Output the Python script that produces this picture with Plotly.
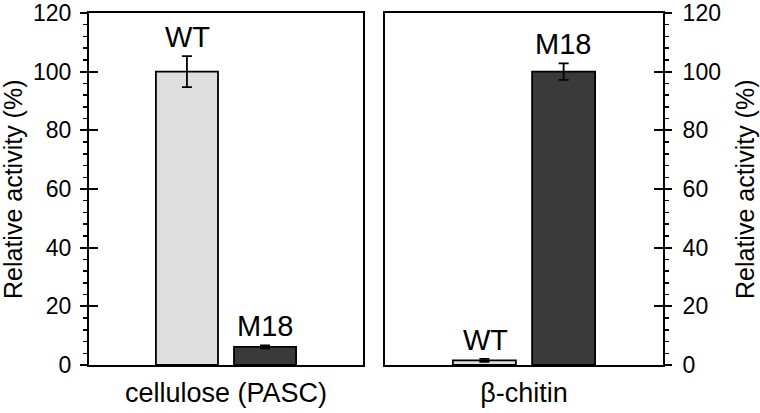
import plotly.graph_objects as go

substrates = ["cellulose (PASC)", "β-chitin"]
variants = ["WT", "M18"]
wt_values = [100.0, 1.6]
wt_errors = [5.3, 0.5]
m18_values = [6.2, 100.0]
m18_errors = [0.5, 2.8]
y_ticks = [0, 20, 40, 60, 80, 100, 120]
y_title = "Relative activity (%)"

FONT = "Liberation Sans, Arial, sans-serif"
WT_COLOR = "#dedede"
M18_COLOR = "#3a3a3a"

W, H = 760, 413
ML, MR, MT, MB = 89, 97, 13, 48
PW = W - ML - MR

def px_x(px):
    return (px - ML) / PW

fig = go.Figure()

axes = [("x", "y"), ("x2", "y2")]
for i, (xa, ya) in enumerate(axes):
    fig.add_trace(go.Bar(
        x=[substrates[i]], y=[wt_values[i]], name=variants[0],
        marker=dict(color=WT_COLOR, line=dict(color="black", width=1.8)),
        error_y=dict(type="data", array=[wt_errors[i]], color="black", thickness=1.8, width=5),
        xaxis=xa, yaxis=ya, showlegend=False, offsetgroup="wt"))
    fig.add_trace(go.Bar(
        x=[substrates[i]], y=[m18_values[i]], name=variants[1],
        marker=dict(color=M18_COLOR, line=dict(color="black", width=1.8)),
        error_y=dict(type="data", array=[m18_errors[i]], color="black", thickness=1.8, width=5),
        xaxis=xa, yaxis=ya, showlegend=False, offsetgroup="m18"))
    for j, (vals, errs) in enumerate([(wt_values, wt_errors), (m18_values, m18_errors)]):
        fig.add_annotation(
            x=substrates[i], y=vals[i] + errs[i], xref=xa, yref=ya,
            text=variants[j], showarrow=False, yanchor="bottom",
            xshift=(-39 if j == 0 else 39), yshift=1,
            font=dict(family=FONT, size=29, color="black"))

# y-axis titles
fig.add_annotation(x=px_x(13), y=0.5, xref="paper", yref="paper", text=y_title,
                   textangle=-90, showarrow=False, xanchor="center", yanchor="middle",
                   font=dict(family=FONT, size=25, color="black"))
fig.add_annotation(x=px_x(745), y=0.5, xref="paper", yref="paper", text=y_title,
                   textangle=-90, showarrow=False, xanchor="center", yanchor="middle",
                   font=dict(family=FONT, size=25, color="black"))

common_y = dict(range=[0, 120], tickvals=y_ticks, ticks="outside", ticklen=7,
                tickwidth=1.8, tickcolor="black", showline=True, linecolor="black",
                linewidth=2, mirror=True, showgrid=False, zeroline=False,
                tickfont=dict(family=FONT, size=23, color="black"),
                minor=dict(ticks="outside", dtick=4, ticklen=4, tickwidth=1.5, tickcolor="black"),
                domain=[0, 1], fixedrange=True, automargin=False)
common_x = dict(showline=True, linecolor="black", linewidth=2, mirror=True, ticks="",
                showgrid=False, tickfont=dict(family=FONT, size=27, color="black"),
                ticklabelstandoff=3, automargin=False, fixedrange=True)
overlay_y = dict(range=[0, 120], tickvals=y_ticks, ticks="inside", ticklen=9, tickwidth=1.8,
                 tickcolor="black", showticklabels=False, showgrid=False, zeroline=False,
                 showline=False, fixedrange=True, automargin=False)

fig.update_layout(
    width=W, height=H,
    margin=dict(l=ML, r=MR, t=MT, b=MB, autoexpand=False),
    paper_bgcolor="white", plot_bgcolor="white",
    barmode="group", bargap=0.43, bargroupgap=0.205,
    xaxis=dict(domain=[0, px_x(363)], anchor="y", **common_x),
    xaxis2=dict(domain=[px_x(385), 1], anchor="y2", **common_x),
    yaxis=dict(anchor="x", side="left", ticklabelstandoff=4, **common_y),
    yaxis2=dict(anchor="x2", side="right", ticklabelstandoff=6, **common_y),
    yaxis3=dict(overlaying="y", anchor="x", side="left", **overlay_y),
    yaxis4=dict(overlaying="y2", anchor="x2", side="right", **overlay_y),
)

fig.add_trace(go.Scatter(x=[substrates[0]], y=[0], yaxis="y3", xaxis="x", mode="markers",
                         marker=dict(opacity=0), showlegend=False, hoverinfo="skip"))
fig.add_trace(go.Scatter(x=[substrates[1]], y=[0], yaxis="y4", xaxis="x2", mode="markers",
                         marker=dict(opacity=0), showlegend=False, hoverinfo="skip"))

fig.write_html("out.html", config={"displayModeBar": False, "staticPlot": True},
               post_script="document.body.style.margin='0';document.body.style.overflow='hidden';")
